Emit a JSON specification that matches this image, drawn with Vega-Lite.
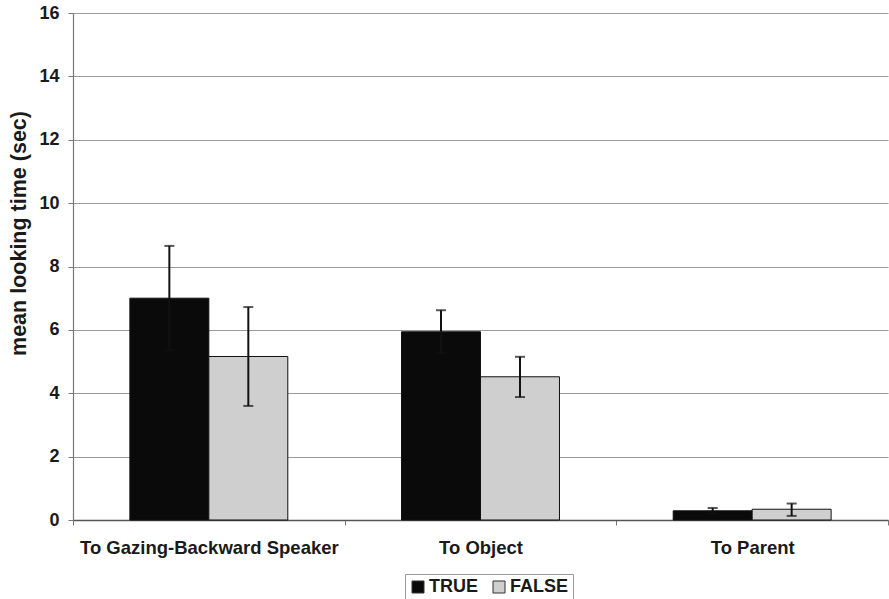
{
  "$schema": "https://vega.github.io/schema/vega-lite/v6.json",
  "width": 815,
  "height": 507,
  "autosize": {"type": "none"},
  "padding": {"left": 73, "top": 13, "right": 1, "bottom": 79},
  "background": "white",
  "config": {
    "font": "Liberation Sans",
    "view": {"stroke": null},
    "axis": {"labelFont": "Liberation Sans", "titleFont": "Liberation Sans"},
    "legend": {"labelFont": "Liberation Sans"}
  },
  "data": {
    "values": [
      {"cat": "To Gazing-Backward Speaker", "group": "TRUE", "mean": 7.0, "lo": 5.35, "hi": 8.65},
      {"cat": "To Gazing-Backward Speaker", "group": "FALSE", "mean": 5.16, "lo": 3.6, "hi": 6.72},
      {"cat": "To Object", "group": "TRUE", "mean": 5.94, "lo": 5.26, "hi": 6.62},
      {"cat": "To Object", "group": "FALSE", "mean": 4.52, "lo": 3.88, "hi": 5.15},
      {"cat": "To Parent", "group": "TRUE", "mean": 0.29, "lo": 0.2, "hi": 0.38},
      {"cat": "To Parent", "group": "FALSE", "mean": 0.34, "lo": 0.13, "hi": 0.52}
    ]
  },
  "encoding": {
    "x": {
      "field": "cat", "type": "nominal", "sort": null,
      "scale": {"paddingInner": 0, "paddingOuter": 0},
      "axis": {
        "title": null, "labelAngle": 0, "labelFontSize": 18.5, "labelFontWeight": "bold",
        "labelColor": "#1a1a1a", "labelPadding": 13, "labelLimit": 0,
        "ticks": true, "tickBand": "extent", "tickSize": 5, "tickColor": "#777",
        "domainColor": "#555", "domainWidth": 1.5
      }
    },
    "xOffset": {"field": "group", "type": "nominal", "sort": ["TRUE", "FALSE"], "scale": {"domain": ["TRUE", "FALSE"], "paddingInner": 0, "paddingOuter": 0.72}}
  },
  "layer": [
    {
      "mark": {"type": "bar", "stroke": "#111", "strokeWidth": 1},
      "encoding": {
        "y": {
          "field": "mean", "type": "quantitative",
          "scale": {"domain": [0, 16], "nice": false},
          "axis": {
            "values": [0, 2, 4, 6, 8, 10, 12, 14, 16],
            "title": "mean looking time (sec)", "titleFontSize": 21.5, "titleFontWeight": "bold",
            "titleColor": "#1a1a1a", "titlePadding": 8, "titleY": 220,
            "labelFontSize": 18, "labelFontWeight": "bold", "labelColor": "#1a1a1a", "labelPadding": 9,
            "tickSize": 5, "tickColor": "#777",
            "grid": true, "gridColor": "#9a9a9a", "gridWidth": 1,
            "domainColor": "#777", "domainWidth": 1.2
          }
        },
        "color": {
          "field": "group", "type": "nominal",
          "scale": {"domain": ["TRUE", "FALSE"], "range": ["#0a0a0a", "#cfcfcf"]},
          "legend": {
            "title": null, "orient": "none", "legendX": 332, "legendY": 561, "direction": "horizontal",
            "labelFontSize": 18, "labelFontWeight": "bold", "labelColor": "#1a1a1a",
            "symbolType": "square", "symbolSize": 144, "symbolStrokeColor": "#333", "symbolStrokeWidth": 1,
            "strokeColor": "#999", "padding": 4, "columnPadding": 12, "labelOffset": 2
          }
        }
      }
    },
    {
      "mark": {"type": "rule", "color": "#111", "strokeWidth": 2},
      "encoding": {"y": {"field": "lo", "type": "quantitative"}, "y2": {"field": "hi"}}
    },
    {
      "mark": {"type": "tick", "color": "#111", "thickness": 2, "size": 10, "orient": "horizontal"},
      "encoding": {"y": {"field": "lo", "type": "quantitative"}}
    },
    {
      "mark": {"type": "tick", "color": "#111", "thickness": 2, "size": 10, "orient": "horizontal"},
      "encoding": {"y": {"field": "hi", "type": "quantitative"}}
    }
  ]
}
